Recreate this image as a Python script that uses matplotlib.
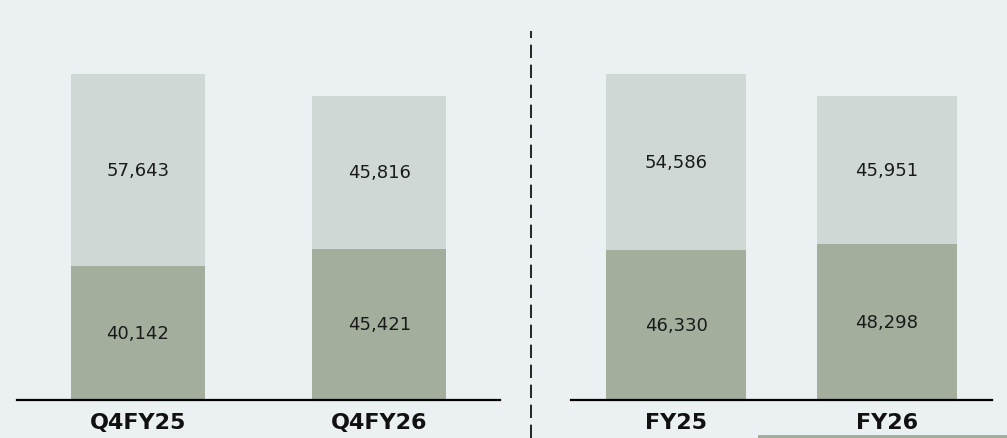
import matplotlib.pyplot as plt
from matplotlib.lines import Line2D
from matplotlib.patches import Rectangle

# Quarterly panel
q_labels = ['Q4FY25', 'Q4FY26']
q_bottom = [40142, 45421]
q_top = [57643, 45816]

# Full-year panel
fy_labels = ['FY25', 'FY26']
fy_bottom = [46330, 48298]
fy_top = [54586, 45951]

bg = '#EBF0F2'
dark = '#A3AE9C'
light = '#CFD8D4'

W, H = 1007, 439
fig = plt.figure(figsize=(W / 100, H / 100), dpi=100)
fig.patch.set_facecolor(bg)


def panel(x0, x1, labels, bottom, top, width):
    ax = fig.add_axes([x0 / W, (H - 401) / H, (x1 - x0) / W, 401 / H])
    ax.set_facecolor(bg)
    pos = range(len(labels))
    ax.bar(pos, bottom, width=width, color=dark)
    ax.bar(pos, top, bottom=bottom, width=width, color=light)
    totals = [b + t for b, t in zip(bottom, top)]
    ax.set_ylim(0, max(totals) * 401 / 326)
    ax.set_xlim(-0.5, 1.5)
    for i, (b, t) in enumerate(zip(bottom, top)):
        ax.text(i, b / 2, f'{b:,}', ha='center', va='center', fontsize=13, color='#1a1a1a')
        ax.text(i, b + t / 2, f'{t:,}', ha='center', va='center', fontsize=13, color='#1a1a1a')
    for s in ['top', 'left', 'right']:
        ax.spines[s].set_visible(False)
    ax.spines['bottom'].set_linewidth(1.6)
    ax.spines['bottom'].set_color('black')
    ax.set_yticks([])
    ax.set_xticks(list(pos))
    ax.set_xticklabels(labels, fontsize=16, fontweight='bold', color='#111111')
    ax.tick_params(axis='x', length=0, pad=9)
    return ax


panel(17, 500, q_labels, q_bottom, q_top, 0.554)
panel(571, 992, fy_labels, fy_bottom, fy_top, 0.667)

# dashed divider
fig.add_artist(Line2D([531 / W, 531 / W], [0, 1 - 32 / H], transform=fig.transFigure,
                      color='black', lw=1.2, linestyle=(0, (8, 4))))
# strip at bottom right
fig.add_artist(Rectangle((758 / W, 0), (W - 758) / W, 3 / H, transform=fig.transFigure,
                         color=dark, lw=0))

fig.savefig('out.png', dpi=100, facecolor=bg)
